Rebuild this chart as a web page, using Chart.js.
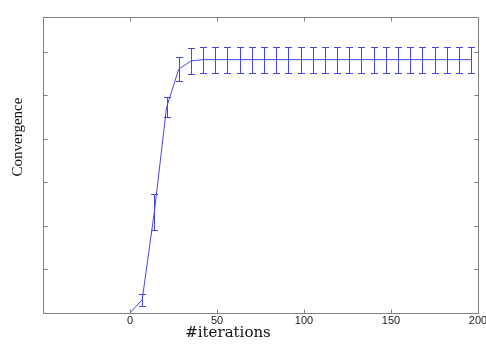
<!DOCTYPE html>
<html>
<head>
<meta charset="utf-8">
<script src="https://cdn.jsdelivr.net/npm/chart.js@4/dist/chart.umd.min.js"></script>
<style>
  html, body { margin: 0; padding: 0; background: #fff; }
  #wrap { width: 486px; height: 344px; }
</style>
</head>
<body>
<div id="wrap"><canvas id="myChart"></canvas></div>
<script>
// iterations sampled every 7 steps
let iterations = [0, 7, 14, 21, 28, 35, 42, 49, 56, 63, 70, 77, 84, 91, 98,
  105, 112, 119, 126, 133, 140, 147, 154, 161, 168, 175, 182, 189, 196];
let convergence = [0.0, 0.3, 2.32, 4.72, 5.6, 5.79, 5.82, 5.82, 5.82, 5.82, 5.82,
  5.82, 5.82, 5.82, 5.82, 5.82, 5.82, 5.82, 5.82, 5.82, 5.82, 5.82, 5.82,
  5.82, 5.82, 5.82, 5.82, 5.82, 5.82];
let spread = [0.0, 0.14, 0.42, 0.23, 0.27, 0.3, 0.3, 0.3, 0.3, 0.3, 0.3,
  0.3, 0.3, 0.3, 0.3, 0.3, 0.3, 0.3, 0.3, 0.3, 0.3, 0.3, 0.3,
  0.3, 0.3, 0.3, 0.3, 0.3, 0.3];
let xTickLabels = [0, 50, 100, 150, 200];

const lineColor = "#4646e1";
const frameColor = "#808080";

// error bars, box frame with inward ticks and axis titles
const decorations = {
  id: "decorations",
  afterDatasetsDraw(chart) {
    const ctx = chart.ctx;
    const xs = chart.scales.x, ys = chart.scales.y;
    ctx.save();
    ctx.strokeStyle = lineColor;
    ctx.lineWidth = 1;
    ctx.beginPath();
    iterations.forEach((it, i) => {
      if (!spread[i]) return;
      const px = Math.round(xs.getPixelForValue(it)) + 0.5;
      const top = Math.round(ys.getPixelForValue(convergence[i] + spread[i])) + 0.5;
      const bot = Math.round(ys.getPixelForValue(convergence[i] - spread[i])) + 0.5;
      ctx.moveTo(px, top); ctx.lineTo(px, bot);
      ctx.moveTo(px - 3.5, top); ctx.lineTo(px + 3.5, top);
      ctx.moveTo(px - 3.5, bot); ctx.lineTo(px + 3.5, bot);
    });
    ctx.stroke();
    ctx.restore();
  },
  afterDraw(chart) {
    const ctx = chart.ctx;
    const a = chart.chartArea;
    const xs = chart.scales.x, ys = chart.scales.y;
    const L = Math.round(a.left) + 0.5, R = Math.round(a.right) + 0.5;
    const T = Math.round(a.top) + 0.5, B = Math.round(a.bottom) + 0.5;
    ctx.save();
    ctx.strokeStyle = frameColor;
    ctx.lineWidth = 1;
    ctx.strokeRect(L, T, R - L, B - T);
    ctx.beginPath();
    xTickLabels.forEach(v => {
      const px = Math.round(xs.getPixelForValue(v)) + 0.5;
      ctx.moveTo(px, B); ctx.lineTo(px, B - 4);
      ctx.moveTo(px, T); ctx.lineTo(px, T + 4);
    });
    ys.ticks.forEach(t => {
      if (t.value <= ys.min || t.value >= ys.max) return;
      const py = Math.round(ys.getPixelForValue(t.value)) + 0.5;
      ctx.moveTo(L, py); ctx.lineTo(L + 4, py);
      ctx.moveTo(R, py); ctx.lineTo(R - 4, py);
    });
    ctx.stroke();

    ctx.fillStyle = "#111";
    ctx.textAlign = "center";
    ctx.textBaseline = "middle";
    ctx.font = "15px 'DejaVu Serif'";
    ctx.fillText("#iterations", 228, 333);
    ctx.font = "15px 'Liberation Serif'";
    ctx.translate(18, 137);
    ctx.rotate(-Math.PI / 2);
    ctx.fillText("Convergence", 0, 0);
    ctx.restore();
  }
};

const config = {
  type: "line",
  data: {
    datasets: [
      {
        data: iterations.map((it, i) => ({ x: it, y: convergence[i] })),
        borderColor: lineColor,
        borderWidth: 1,
        pointRadius: 0,
        tension: 0,
        fill: false,
      },
    ],
  },
  options: {
    responsive: true,
    maintainAspectRatio: false,
    animation: false,
    layout: { padding: { left: 43, right: 8, top: 17, bottom: 14 } },
    plugins: {
      legend: { display: false },
      tooltip: { enabled: false },
    },
    scales: {
      x: {
        type: "linear",
        min: -50,
        max: 200,
        grid: { display: false, drawTicks: false },
        border: { display: false },
        afterBuildTicks: (scale) => {
          scale.ticks = xTickLabels.map(v => ({ value: v }));
        },
        afterFit: (scale) => {
          scale.paddingRight = 0;
          scale.paddingLeft = 0;
        },
        ticks: {
          padding: 2,
          color: "#222",
          font: { family: "'Liberation Sans'", size: 11 },
          callback: (v) => String(v),
        },
      },
      y: {
        type: "linear",
        min: 0,
        max: 6.8,
        grid: { display: false, drawTicks: false },
        border: { display: false },
        ticks: { display: false, stepSize: 1 },
      },
    },
  },
  plugins: [decorations],
};

const myChart = new Chart(document.getElementById("myChart"), config);
</script>
</body>
</html>
